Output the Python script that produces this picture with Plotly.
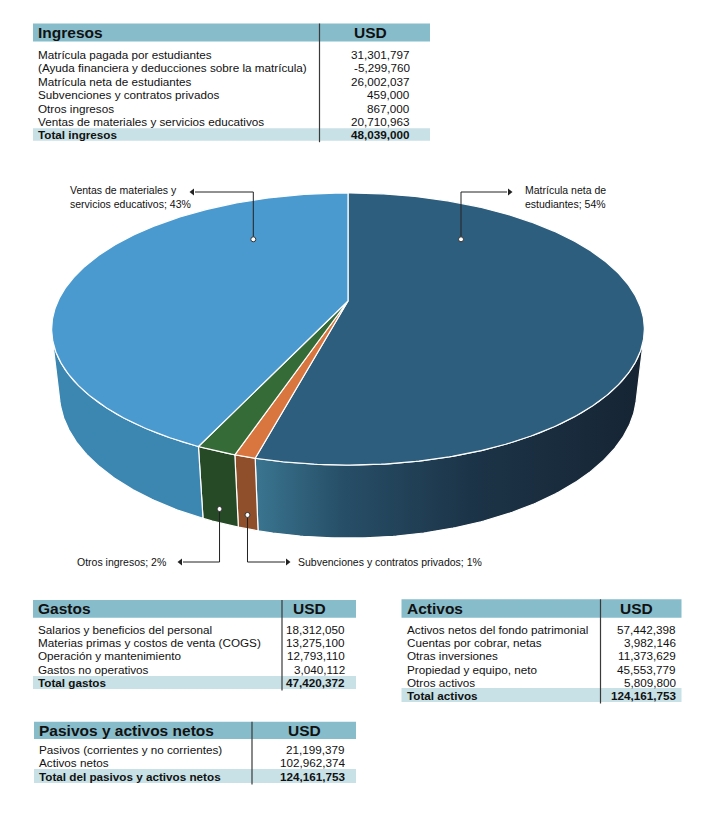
import numpy as np
import plotly.graph_objects as go

# ---------------- data ----------------
ing_labels = [
    "Matrícula pagada por estudiantes",
    "(Ayuda financiera y deducciones sobre la matrícula)",
    "Matrícula neta de estudiantes",
    "Subvenciones y contratos privados",
    "Otros ingresos",
    "Ventas de materiales y servicios educativos",
]
ing_values = [31301797, -5299760, 26002037, 459000, 867000, 20710963]
ing_total = 48039000

gas_labels = [
    "Salarios y beneficios del personal",
    "Materias primas y costos de venta (COGS)",
    "Operación y mantenimiento",
    "Gastos no operativos",
]
gas_values = [18312050, 13275100, 12793110, 3040112]
gas_total = 47420372

act_labels = [
    "Activos netos del fondo patrimonial",
    "Cuentas por cobrar, netas",
    "Otras inversiones",
    "Propiedad y equipo, neto",
    "Otros activos",
]
act_values = [57442398, 3982146, 11373629, 45553779, 5809800]
act_total = 124161753

pas_labels = ["Pasivos (corrientes y no corrientes)", "Activos netos"]
pas_values = [21199379, 102962374]
pas_total = 124161753

pie_categories = [
    "Matrícula neta de<br>estudiantes",
    "Subvenciones y contratos privados",
    "Otros ingresos",
    "Ventas de materiales y<br>servicios educativos",
]
pie_values = [26002037, 459000, 867000, 20710963]

# ---------------- styles ----------------
W_PX, H_PX = 721, 813
FONT = "Liberation Sans, Arial, Helvetica, sans-serif"
HEAD_BG = "#87bccb"
TOT_BG = "#c8e1e7"
TXT = "#111111"
top_colors = ["#2e5e7d", "#d9763f", "#356b36", "#4a9ad0"]
side_colors = [None, "#8f4f2b", "#264a26", "#3c86b2"]
matr_side_scale = [[0, "#3a7590"], [0.22, "#274f68"], [0.55, "#1c3448"], [1, "#162433"]]

# 3D pie projection parameters
CX, CY = 348, 301
FOC, DIST = 1258.6, 4.34
ALPHA = np.radians(26.7)
THICK = 0.2472
sa, ca = np.sin(ALPHA), np.cos(ALPHA)


def project(theta_deg, r=1.0, z=0.0):
    t = np.radians(np.asarray(theta_deg, dtype=float))
    xw = r * np.cos(t)
    yw = r * np.sin(t)
    u = yw * sa + z * ca
    w = DIST + yw * ca - z * sa
    return CX + FOC * xw / w, CY - FOC * u / w


cam_y = DIST * ca
phi = np.degrees(np.arccos(1.0 / cam_y))
vis_lo, vis_hi = -90 - phi, -90 + phi

fig = go.Figure()

total = sum(pie_values)
slices = []
start = 90.0
for v in pie_values:
    sweep = 360.0 * v / total
    slices.append((start, start - sweep))
    start -= sweep

# sides
for i, (s0, s1) in enumerate(slices):
    a, b = max(s1, vis_lo), min(s0, vis_hi)
    if a >= b:
        continue
    th = np.linspace(a, b, max(4, int((b - a) * 2)))
    xt, yt = project(th, 1, 0)
    xb, yb = project(th[::-1], 1, -THICK)
    xs = np.concatenate([xt, xb, xt[:1]])
    ys = np.concatenate([yt, yb, yt[:1]])
    kw = dict(fillcolor=side_colors[i]) if side_colors[i] else dict(
        fillgradient=dict(type="horizontal", colorscale=matr_side_scale))
    fig.add_trace(go.Scatter(x=xs, y=ys, mode="lines", fill="toself",
                             line=dict(color="white", width=1.2),
                             hoverinfo="skip", showlegend=False, **kw))

# tops
for i, (s0, s1) in enumerate(slices):
    th = np.linspace(s0, s1, max(4, int(abs(s0 - s1) * 2)))
    xa, ya = project(th, 1, 0)
    xs = np.concatenate([[CX], xa, [CX]])
    ys = np.concatenate([[CY], ya, [CY]])
    fig.add_trace(go.Scatter(x=xs, y=ys, mode="lines", fill="toself",
                             fillcolor=top_colors[i],
                             line=dict(color="white", width=1.2),
                             hoverinfo="skip", showlegend=False))

# ---------------- pie labels ----------------
pcts = [round(100 * v / total) for v in pie_values]
LINE_C = "#222222"
side_anchor = {}
for i in (1, 2):
    mid = (slices[i][0] + slices[i][1]) / 2
    side_anchor[i] = project(mid, 1, -0.8 * THICK)

label_specs = [
    # (index, dot, elbow_y, line_end_x, arrow_dir, text_x, text_anchor, text_y)
    (0, (461, 239.3), 192, 507, "right", 523, "left", 197),
    (1, side_anchor[1], 562, 285, "right", 296, "left", 562),
    (2, side_anchor[2], 562, 183, "left", 168, "right", 562),
    (3, (253.3, 239.3), 192, 195, "left", 68, "left", 197),
]
for idx, (dx, dy), ey, lx, adir, tx, tanc, ty in label_specs:
    dx, dy = float(dx), float(dy)
    fig.add_trace(go.Scatter(x=[dx, dx, lx], y=[dy, ey, ey], mode="lines",
                             line=dict(color=LINE_C, width=1),
                             hoverinfo="skip", showlegend=False))
    ax = lx + (2.5 if adir == "right" else -2.5)
    fig.add_trace(go.Scatter(x=[ax], y=[ey], mode="markers",
                             marker=dict(symbol="triangle-" + adir, size=6, color=LINE_C),
                             hoverinfo="skip", showlegend=False))
    fig.add_trace(go.Scatter(x=[dx], y=[dy], mode="markers",
                             marker=dict(symbol="circle", size=5, color="white",
                                         line=dict(color="#333333", width=1)),
                             hoverinfo="skip", showlegend=False))
    fig.add_annotation(x=tx, y=ty, xref="x", yref="y", showarrow=False,
                       text=f"{pie_categories[idx]}; {pcts[idx]}%",
                       xanchor=tanc, yanchor="middle", align="left",
                       font=dict(family=FONT, size=10.5, color=TXT))

# ---------------- tables ----------------
shapes = []
ROW_FS = 11.7


def add_table(title, labels, values, total_label, total_value, g):
    shapes.append(dict(type="rect", xref="x", yref="y", x0=g["x0"], x1=g["x1"],
                       y0=g["hy0"], y1=g["hy1"], fillcolor=HEAD_BG, line=dict(width=0),
                       layer="below"))
    shapes.append(dict(type="rect", xref="x", yref="y", x0=g["x0"], x1=g["x1"],
                       y0=g["ty0"], y1=g["ty1"], fillcolor=TOT_BG, line=dict(width=0),
                       layer="below"))
    shapes.append(dict(type="line", xref="x", yref="y", x0=g["xs"], x1=g["xs"],
                       y0=g["hy0"], y1=g["ty1"] + 1.5,
                       line=dict(color="#3a3a3a", width=1.2), layer="above"))
    hy = (g["hy0"] + g["hy1"]) / 2
    fig.add_annotation(x=g["x0"] + 3, y=hy, text=f"<b>{title}</b>", showarrow=False,
                       xanchor="left", yanchor="middle",
                       font=dict(family=FONT, size=15.5, color=TXT))
    fig.add_annotation(x=g["usd"], y=hy, text="<b>USD</b>", showarrow=False,
                       xanchor="center", yanchor="middle",
                       font=dict(family=FONT, size=15.5, color=TXT))
    for k, (lab, val) in enumerate(zip(labels, values)):
        y = g["ry"] + k * g["dy"]
        fig.add_annotation(x=g["x0"] + 3, y=y, text=lab, showarrow=False,
                           xanchor="left", yanchor="middle",
                           font=dict(family=FONT, size=ROW_FS, color=TXT))
        fig.add_annotation(x=g["vx"], y=y, text=f"{val:,}", showarrow=False,
                           xanchor="right", yanchor="middle",
                           font=dict(family=FONT, size=ROW_FS, color=TXT))
    ty = (g["ty0"] + g["ty1"]) / 2
    fig.add_annotation(x=g["x0"] + 3, y=ty, text=f"<b>{total_label}</b>", showarrow=False,
                       xanchor="left", yanchor="middle",
                       font=dict(family=FONT, size=ROW_FS, color=TXT))
    fig.add_annotation(x=g["vx"], y=ty, text=f"<b>{total_value:,}</b>", showarrow=False,
                       xanchor="right", yanchor="middle",
                       font=dict(family=FONT, size=ROW_FS, color=TXT))


add_table("Ingresos", ing_labels, ing_values, "Total ingresos", ing_total,
          dict(x0=33, x1=430, xs=319.5, hy0=23.5, hy1=41.5, usd=370,
               ry=54.3, dy=13.45, ty0=128.3, ty1=140.7, vx=412))
add_table("Gastos", gas_labels, gas_values, "Total gastos", gas_total,
          dict(x0=33, x1=356, xs=282, hy0=600, hy1=617.7, usd=309,
               ry=629.3, dy=13.3, ty0=676, ty1=689, vx=347))
add_table("Activos", act_labels, act_values, "Total activos", act_total,
          dict(x0=401.5, x1=681.5, xs=600.5, hy0=599.3, hy1=617.7, usd=636,
               ry=629.3, dy=13.3, ty0=688, ty1=702, vx=678))
add_table("Pasivos y activos netos", pas_labels, pas_values,
          "Total del pasivos y activos netos", pas_total,
          dict(x0=34, x1=356, xs=252, hy0=721.7, hy1=739, usd=304,
               ry=749, dy=13.5, ty0=769, ty1=783, vx=347))

fig.update_layout(
    width=W_PX, height=H_PX,
    margin=dict(l=0, r=0, t=0, b=0, pad=0),
    paper_bgcolor="white", plot_bgcolor="white",
    xaxis=dict(range=[0, W_PX], visible=False, fixedrange=True),
    yaxis=dict(range=[H_PX, 0], visible=False, fixedrange=True),
    shapes=shapes,
    showlegend=False,
)

fig.write_html("out.html", config={"displayModeBar": False},
               post_script="document.body.style.margin='0';")
